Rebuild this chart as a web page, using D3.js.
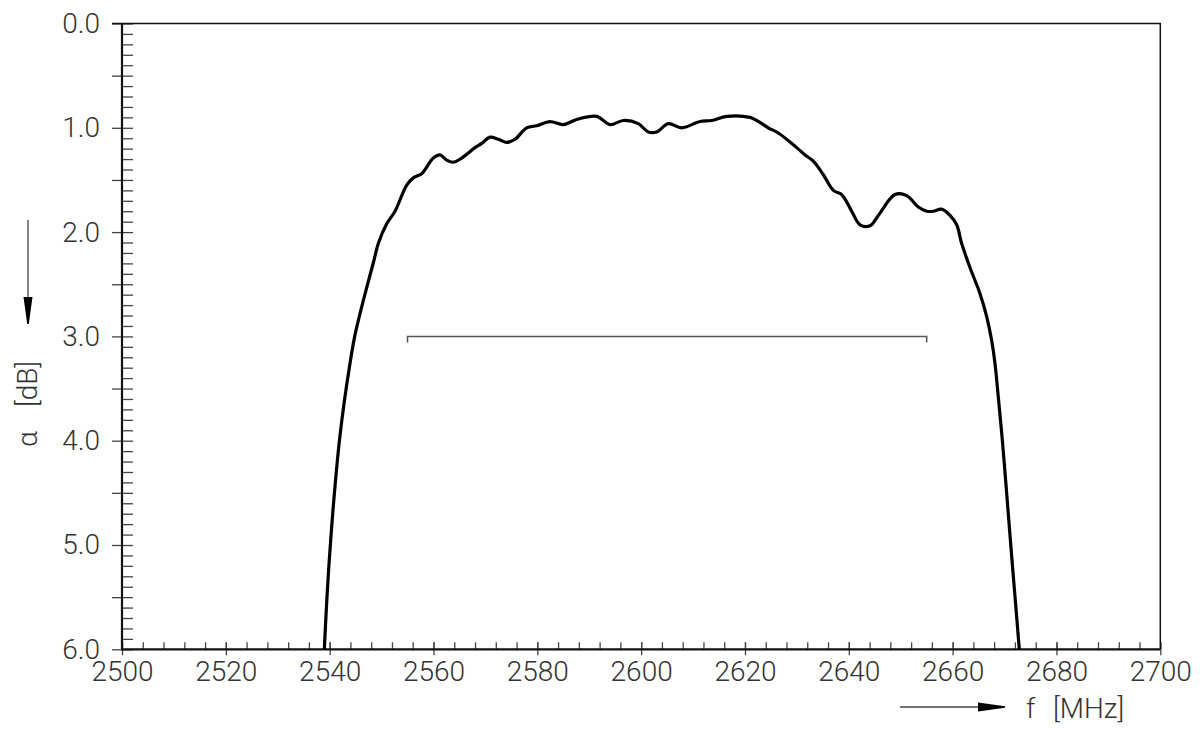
<!DOCTYPE html>
<meta charset="utf-8">
<style>

body {
  margin: 0;
  background: #fff;
}

text {
  font-family: Roboto, "Liberation Sans", sans-serif;
  font-weight: 300;
  font-size: 28px;
  fill: #333;
}

.tick line {
  stroke: #444;
  stroke-width: 1.3;
}

</style>
<svg width="1204" height="729"></svg>
<script src="https://d3js.org/d3.v7.min.js"></script>
<script>

var freqMHz = [2538.97, 2539.45, 2539.93, 2540.49, 2541.13, 2541.90, 2542.86, 2543.82, 2544.82,
  2546.00, 2547.25, 2548.54, 2549.37, 2550.99, 2552.59, 2554.84, 2556.11, 2557.73, 2559.96,
  2561.25, 2562.54, 2563.82, 2565.43, 2567.99, 2569.29, 2570.89, 2572.49, 2574.10, 2575.70,
  2577.95, 2579.88, 2582.44, 2585.00, 2587.59, 2591.44, 2594.00, 2596.56, 2599.45, 2601.38,
  2602.99, 2605.23, 2607.81, 2611.34, 2613.59, 2616.48, 2620.97, 2622.26, 2624.49, 2626.42,
  2629.96, 2631.56, 2633.16, 2635.09, 2637.01, 2638.63, 2640.56, 2642.16, 2644.08, 2645.68,
  2648.90, 2651.15, 2653.39, 2655.00, 2656.27, 2657.89, 2659.49, 2660.78, 2661.74, 2663.34,
  2665.27, 2666.56, 2667.52, 2668.16, 2668.79, 2669.40, 2669.95, 2670.72, 2671.49, 2672.17,
  2672.84];

var attenDB = [6.00, 5.53, 5.14, 4.76, 4.38, 3.99, 3.61, 3.29, 3.00,
  2.75, 2.51, 2.27, 2.11, 1.92, 1.80, 1.55, 1.48, 1.44, 1.29,
  1.26, 1.31, 1.33, 1.29, 1.19, 1.15, 1.09, 1.11, 1.14, 1.11,
  1.00, 0.98, 0.94, 0.97, 0.92, 0.89, 0.97, 0.93, 0.96, 1.04,
  1.04, 0.96, 1.00, 0.94, 0.93, 0.89, 0.90, 0.93, 1.00, 1.05,
  1.19, 1.26, 1.32, 1.45, 1.60, 1.64, 1.80, 1.93, 1.94, 1.84,
  1.64, 1.65, 1.76, 1.80, 1.80, 1.78, 1.84, 1.93, 2.11, 2.34,
  2.59, 2.81, 3.04, 3.26, 3.58, 3.90, 4.22, 4.70, 5.18, 5.59,
  6.00];

// passband mask
var maskFreq = [2555, 2655];
var maskDB = 3.0;

var xTicks = [2500, 2520, 2540, 2560, 2580, 2600, 2620, 2640, 2660, 2680, 2700];
var yTicks = [0, 1, 2, 3, 4, 5, 6];

var svg = d3.select("svg");

var x = d3.scaleLinear().domain([2500, 2700]).range([122, 1160.3]);
var y = d3.scaleLinear().domain([0, 6]).range([23.5, 649.3]);

var x0 = x.range()[0], x1 = x.range()[1],
    y0 = y.range()[0], y1 = y.range()[1];

// minor ticks
svg.append("g")
    .attr("transform", "translate(" + x0 + ",0)")
    .call(d3.axisRight(y).tickValues(d3.range(0, 61).map(d => d / 10)).tickSize(11).tickFormat(""))
    .call(g => g.select(".domain").remove());

svg.append("g")
    .attr("transform", "translate(0," + y1 + ")")
    .call(d3.axisTop(x).tickValues(d3.range(2500, 2701, 4)).tickSize(7).tickFormat(""))
    .call(g => g.select(".domain").remove());

// major ticks with labels
svg.append("g")
    .attr("transform", "translate(" + x0 + ",0)")
    .call(d3.axisLeft(y).tickValues(d3.range(0, 13).map(d => d / 2)).tickSize(10).tickPadding(12)
      .tickFormat(d => yTicks.includes(d) ? d3.format(".1f")(d) : ""))
    .call(g => g.select(".domain").remove())
    .call(g => g.selectAll("text").attr("font-family", null).attr("font-size", null).attr("fill", null));

svg.append("g")
    .attr("transform", "translate(0," + y1 + ")")
    .call(d3.axisBottom(x).tickValues(xTicks).tickSize(6).tickPadding(6).tickFormat(d3.format("d")))
    .call(g => g.select(".domain").remove())
    .call(g => g.selectAll("text").attr("font-family", null).attr("font-size", null).attr("fill", null));

svg.append("g")
    .attr("transform", "translate(0," + y1 + ")")
    .call(d3.axisTop(x).tickValues(xTicks).tickSize(7).tickFormat(""))
    .call(g => g.select(".domain").remove());

// frame
svg.append("path")
    .attr("d", "M" + (x0 - 10) + "," + y0 + "H" + x1 + "V" + y1)
    .attr("fill", "none")
    .attr("stroke", "#111")
    .attr("stroke-width", 1.5);

svg.append("path")
    .attr("d", "M" + x0 + "," + y0 + "V" + y1 + "H" + x1)
    .attr("fill", "none")
    .attr("stroke", "#111")
    .attr("stroke-width", 2.2);

// mask bracket
svg.append("path")
    .attr("d", "M" + x(maskFreq[0]) + "," + (y(maskDB) + 6) + "V" + y(maskDB) +
               "H" + x(maskFreq[1]) + "V" + (y(maskDB) + 6))
    .attr("fill", "none")
    .attr("stroke", "#555")
    .attr("stroke-width", 1.5);

// curve
var line = d3.line()
    .x((d, i) => x(freqMHz[i]))
    .y(d => y(d))
    .curve(d3.curveCatmullRom.alpha(0.5));

svg.append("path")
    .datum(attenDB)
    .attr("d", line)
    .attr("fill", "none")
    .attr("stroke", "#000")
    .attr("stroke-width", 3.2)
    .attr("stroke-linejoin", "round");

// axis titles with arrows
var ya = svg.append("g").attr("transform", "translate(28,0)");
ya.append("line").attr("y1", 220).attr("y2", 298).attr("stroke", "#444").attr("stroke-width", 1.3);
ya.append("path").attr("d", "M-4.5,297 L4.5,297 L0.8,324 L-0.8,324 Z").attr("fill", "#000");
ya.append("text").attr("transform", "translate(9,439) rotate(-90)").attr("text-anchor", "middle").text("α");
ya.append("text").attr("transform", "translate(9,384) rotate(-90)").attr("text-anchor", "middle").text("[dB]");

var xa = svg.append("g").attr("transform", "translate(0,707)");
xa.append("line").attr("x1", 900).attr("x2", 979).attr("stroke", "#444").attr("stroke-width", 1.3);
xa.append("path").attr("d", "M978,-4.5 L978,4.5 L1005,0.8 L1005,-0.8 Z").attr("fill", "#000");
xa.append("text").attr("x", 1026).attr("y", 11).text("f");
xa.append("text").attr("x", 1053).attr("y", 11).text("[MHz]");

</script>
